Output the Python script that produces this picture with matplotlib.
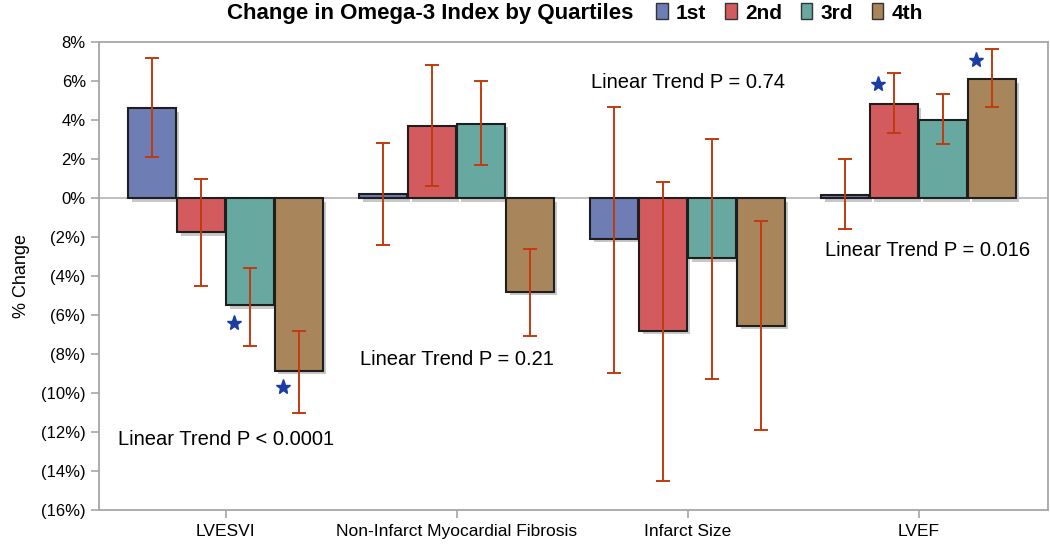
import numpy as np
import matplotlib.pyplot as plt
from matplotlib.patches import Patch
from matplotlib.ticker import FuncFormatter

plt.rcParams['font.family'] = ['Liberation Sans', 'DejaVu Sans']

categories = ['LVESVI', 'Non-Infarct Myocardial Fibrosis', 'Infarct Size', 'LVEF']
quartiles = ['1st', '2nd', '3rd', '4th']

# % change per quartile (rows = quartile, cols = category)
values = np.array([
    [4.6, 0.2, -2.1, 0.15],
    [-1.75, 3.7, -6.8, 4.8],
    [-5.5, 3.8, -3.1, 4.0],
    [-8.85, -4.8, -6.55, 6.1],
])
err_hi = np.array([
    [7.2, 2.8, 4.65, 2.0],
    [1.0, 6.8, 0.8, 6.4],
    [-3.6, 6.0, 3.05, 5.35],
    [-6.8, -2.6, -1.2, 7.65],
])
err_lo = np.array([
    [2.1, -2.4, -8.95, -1.6],
    [-4.5, 0.6, -14.5, 3.35],
    [-7.6, 1.7, -9.3, 2.75],
    [-11.0, -7.1, -11.9, 4.65],
])

# significance stars: (category, quartile, y)
stars = [(0, 2, -6.4), (0, 3, -9.7), (3, 1, 5.85), (3, 3, 7.1)]

trend_labels = ['Linear Trend P < 0.0001', 'Linear Trend P = 0.21',
                'Linear Trend P = 0.74', 'Linear Trend P = 0.016']
trend_y = [-12.4, -8.3, 5.9, -2.7]
trend_x = [0.0, 0.0, 0.0, 0.04]

colors = ['#6F7DB5', '#D35B5D', '#67A9A0', '#A8855B']
err_color = '#C23B0E'
star_color = '#1A3CA3'
frame_color = '#A6A6A6'

fig = plt.figure(figsize=(10.5, 5.44), dpi=100)
ax = fig.add_axes([99 / 1050, 1 - 510 / 544, 949 / 1050, 468 / 544])

x = np.arange(len(categories))
step = 0.212
width = 0.206

ax.axhline(0, color='#B5B5B5', lw=1.2, zorder=1)

for i in range(len(quartiles)):
    xpos = x + (i - 1.5) * step
    # drop shadow, offset right and down
    ax.bar(xpos + 0.014, values[i], width=width, bottom=-0.18,
           color='#C8C8C8', edgecolor='none', zorder=2)
    ax.bar(xpos, values[i], width=width, color=colors[i], edgecolor='#1E1E1E',
           lw=1.5, zorder=3)
    yerr = [values[i] - err_lo[i], err_hi[i] - values[i]]
    ax.errorbar(xpos, values[i], yerr=yerr, fmt='none', ecolor=err_color,
                elinewidth=1.4, capsize=5, capthick=1.4, zorder=4)

for c, q, y in stars:
    ax.plot(x[c] + (q - 1.5) * step - 0.07, y, marker='*', ms=11, color=star_color,
            mec=star_color, ls='none', zorder=5)

for c in range(len(categories)):
    ax.text(x[c] + trend_x[c], trend_y[c], trend_labels[c], ha='center', va='center',
            fontsize=14.5, zorder=6)

ax.set_xlim(-0.548, 3.56)
ax.set_ylim(-16, 8)
ax.set_yticks(np.arange(-16, 9, 2))
ax.yaxis.set_major_formatter(FuncFormatter(
    lambda v, p: f'({abs(v):.0f}%)' if v < 0 else f'{v:.0f}%'))
ax.set_xticks(x)
ax.set_xticklabels(categories)
ax.tick_params(axis='both', colors=frame_color, labelcolor='black', labelsize=12,
               length=6, width=1.2)
ax.tick_params(axis='x', pad=4, labelsize=12.5)
for s in ax.spines.values():
    s.set_color(frame_color)
    s.set_linewidth(1.3)
ax.set_ylabel('% Change', fontsize=13, labelpad=8)

fig.text(0.603, 0.976, 'Change in Omega-3 Index by Quartiles', ha='right', va='center',
         fontsize=16, fontweight='bold')
handles = [Patch(facecolor=colors[i], edgecolor='#333333', lw=1.0) for i in range(4)]
fig.legend(handles, quartiles, loc='center left', bbox_to_anchor=(0.625, 0.976), ncol=4,
           frameon=False, prop={'weight': 'bold', 'size': 15},
           handlelength=0.55, handleheight=0.8, handletextpad=0.4, columnspacing=0.9,
           borderpad=0, borderaxespad=0)

fig.savefig('out.png', dpi=100)
